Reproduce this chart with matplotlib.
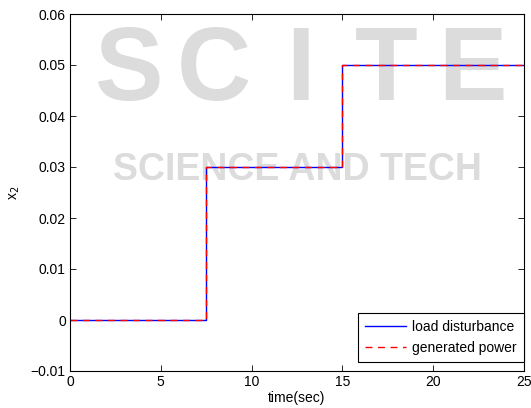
import matplotlib
matplotlib.use("Agg")
import matplotlib.pyplot as plt
import numpy as np

# data
t = [0, 7.5, 7.5, 15, 15, 25]
load_disturbance = [0, 0, 0.03, 0.03, 0.05, 0.05]
generated_power = [0, 0, 0.03, 0.03, 0.05, 0.05]
xticks = [0, 5, 10, 15, 20, 25]
yticks = [-0.01, 0, 0.01, 0.02, 0.03, 0.04, 0.05, 0.06]
ytick_labels = ["\u22120.01", "0", "0.01", "0.02", "0.03", "0.04", "0.05", "0.06"]

plt.rcParams['font.family'] = ['Liberation Sans', 'DejaVu Sans']

W, H = 531, 408
fig = plt.figure(figsize=(W/100, H/100), dpi=100)
ax = fig.add_axes([70/W, 37/H, 454/W, 357/H])
ax.patch.set_visible(False)

# faint watermark, kept inside the plot area
wm = '#dcdcdc'
word = "SCITE"
x0, x1 = 85, 515
for i, ch in enumerate(word):
    xc = x0 + (x1 - x0) * (i + 0.5) / len(word)
    fig.text(xc / W, 1 - 100 / H, ch, fontsize=74, fontweight='bold',
             color=wm, zorder=-2, ha='center', va='baseline')
fig.text(297 / W, 1 - 180 / H, "SCIENCE AND TECH", fontsize=27, fontweight='bold',
         color=wm, zorder=-2, ha='center', va='baseline')

ax.plot(t, load_disturbance, color='#0000ff', lw=1.0, label='load disturbance')
ax.plot(t, generated_power, color='#ff0000', lw=1.0, ls=(0, (5, 4)), label='generated power')

ax.set_xlim(0, 25)
ax.set_ylim(-0.01, 0.06)
ax.set_xticks(xticks)
ax.set_yticks(yticks)
ax.set_yticklabels(ytick_labels)
ax.tick_params(direction='in', top=True, right=True, labelsize=10, length=4, width=0.6, pad=3)
for s in ax.spines.values():
    s.set_linewidth(0.8)
ax.set_xlabel('time(sec)', fontsize=10, labelpad=1)
ax.set_ylabel('x$_2$', fontsize=10, labelpad=6)

leg = ax.legend(loc='lower right', bbox_to_anchor=(1.0, 9/357), fontsize=10, fancybox=False,
                framealpha=1, edgecolor='black', borderaxespad=0.0, handlelength=3.0,
                handletextpad=0.45, borderpad=0.5, labelspacing=0.5)
leg.get_frame().set_linewidth(0.8)

fig.savefig('out.png', dpi=100)
